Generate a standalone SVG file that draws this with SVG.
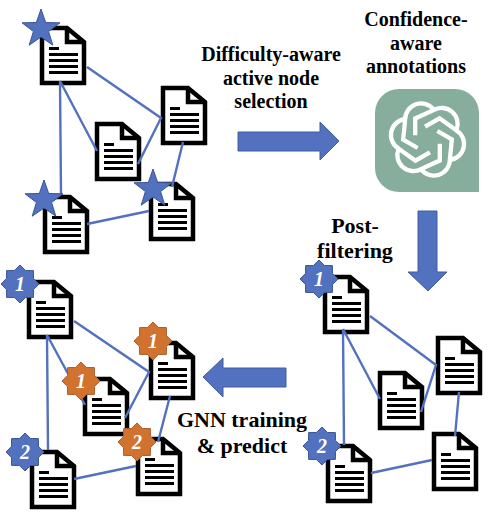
<svg xmlns="http://www.w3.org/2000/svg" width="496" height="515" viewBox="0 0 496 515">
<style>
.lbl{font-family:"Liberation Serif","Times New Roman",serif;font-weight:700;font-size:20px;fill:#000;text-anchor:middle}
.lbl2{font-size:22px}
.num{font-family:"Liberation Serif","Times New Roman",serif;font-weight:700;font-style:italic;font-size:20px;fill:#fff;text-anchor:middle}
.edge{stroke:#5271BE;stroke-width:2.400;fill:none}
.arrow{fill:#5271BE;stroke:#3F5E9E;stroke-width:1}
.blue{fill:#5271BE;stroke:#3A5690;stroke-width:1}
.orange{fill:#D2722F;stroke:#A9602F;stroke-width:1}
.pg{fill:#fff;stroke:#000;stroke-width:4.500}
.ln{stroke:#000;stroke-width:2.800;fill:none}
.knot{fill:none;stroke:#fff;stroke-width:4.300}
</style>
<defs>
<g id="doc">
<path class="pg" d="M2,2H27L44,16V57H2Z"/>
<path class="ln" style="stroke-width:4.500" d="M27,2V16H44"/>
<path class="ln" d="M9,22.500H19M9,28.500H38M9,34.500H38M9,40.500H38M9,46.500H38"/>
</g>
<polygon id="star5" points="0,-20 4.700,-6.500 19,-6.200 7.600,2.500 11.800,16.200 0,8 -11.800,16.200 -7.600,2.500 -19,-6.200 -4.700,-6.500"/>
<polygon id="star8" points="0,-19 5.600,-13.500 13.400,-13.400 13.500,-5.600 19,0 13.500,5.600 13.400,13.400 5.600,13.500 0,19 -5.600,13.500 -13.400,13.400 -13.500,5.600 -19,0 -13.500,-5.600 -13.400,-13.400 -5.600,-13.500"/>
<path id="petal" class="knot" d="M-12.300,-4.300V-21L6,-29.300A16,16 0 0 1 29,-9.500"/>
</defs>

<g id="graph1-docs">
<g id="g1-a"><use href="#doc" x="40" y="26"/></g>
<g id="g1-b"><use href="#doc" x="161" y="86"/></g>
<g id="g1-c"><use href="#doc" x="95" y="122"/></g>
<g id="g1-d"><use href="#doc" x="43" y="195"/></g>
<g id="g1-e"><use href="#doc" x="149" y="182"/></g>
</g>
<g id="graph2-docs">
<g id="g2-a"><use href="#doc" x="27" y="280"/></g>
<g id="g2-b"><use href="#doc" x="149" y="341"/></g>
<g id="g2-c"><use href="#doc" x="83" y="377"/></g>
<g id="g2-d"><use href="#doc" x="30" y="450"/></g>
<g id="g2-e"><use href="#doc" x="136" y="437"/></g>
</g>
<g id="graph3-docs">
<g id="g3-a"><use href="#doc" x="323" y="275"/></g>
<g id="g3-b"><use href="#doc" x="436" y="336"/></g>
<g id="g3-c"><use href="#doc" x="378" y="371"/></g>
<g id="g3-d"><use href="#doc" x="326" y="444"/></g>
<g id="g3-e"><use href="#doc" x="432" y="432"/></g>
</g>

<g id="connectors" class="edge">
<path d="M60,81L61,195M60,81L97,151M87,67L161,118L138,164M183,142L172,187M87,224L149,211"/>
<path d="M47,335L48,450M47,335L85,405M74,321L149,372L125,418M170,396L158,442M74,479L136,466"/>
<path d="M343,329L344,445M343,329L380,399M370,316L436,365L421,412M459,392L455,436M371,473L432,460"/>
</g>

<g id="badges">
<use id="s1" href="#star5" class="blue" x="41" y="29"/>
<use id="s2" href="#star5" class="blue" x="44" y="200"/>
<use id="s3" href="#star5" class="blue" x="153" y="189"/>
<g id="b1"><use href="#star8" class="blue" x="20" y="284"/><text class="num" x="20" y="291">1</text></g>
<g id="b2"><use href="#star8" class="blue" x="25" y="452"/><text class="num" x="25" y="459">2</text></g>
<g id="b3"><use href="#star8" class="orange" x="153" y="341"/><text class="num" x="153" y="348">1</text></g>
<g id="b4"><use href="#star8" class="orange" x="81" y="381"/><text class="num" x="81" y="388">1</text></g>
<g id="b5"><use href="#star8" class="orange" x="137" y="442"/><text class="num" x="137" y="449">2</text></g>
<g id="b6"><use href="#star8" class="blue" x="319" y="279"/><text class="num" x="319" y="286">1</text></g>
<g id="b7"><use href="#star8" class="blue" x="322" y="446"/><text class="num" x="322" y="453">2</text></g>
</g>

<g id="icon">
<path fill="#87AE9C" d="M399,89H455A24,24 0 0 1 479,113V192H399A24,24 0 0 1 375,168V113A24,24 0 0 1 399,89Z"/>
<g transform="translate(427.500,139.500)">
<use href="#petal"/>
<use href="#petal" transform="rotate(60)"/>
<use href="#petal" transform="rotate(120)"/>
<use href="#petal" transform="rotate(180)"/>
<use href="#petal" transform="rotate(240)"/>
<use href="#petal" transform="rotate(300)"/>
</g>
</g>

<g id="arrows">
<path class="arrow" d="M238,132H320V122L339,141L320,160V151H238Z"/>
<path class="arrow" d="M418,211H437V272H447L428,291L408,272H418Z"/>
<path class="arrow" d="M286,368H223V358L203,377L223,397V387H286Z"/>
</g>

<g id="labels">
<text class="lbl" x="271" y="61">Difficulty-aware</text>
<text class="lbl" x="271" y="85">active node</text>
<text class="lbl" x="271" y="108">selection</text>
<text class="lbl" x="416" y="26">Confidence-</text>
<text class="lbl" x="416" y="50">aware</text>
<text class="lbl" x="416" y="73">annotations</text>
<text class="lbl lbl2" x="355" y="233">Post-</text>
<text class="lbl lbl2" x="355" y="258">filtering</text>
<text class="lbl lbl2" x="242" y="427">GNN training</text>
<text class="lbl lbl2" x="242" y="453">&amp; predict</text>
</g>
</svg>
